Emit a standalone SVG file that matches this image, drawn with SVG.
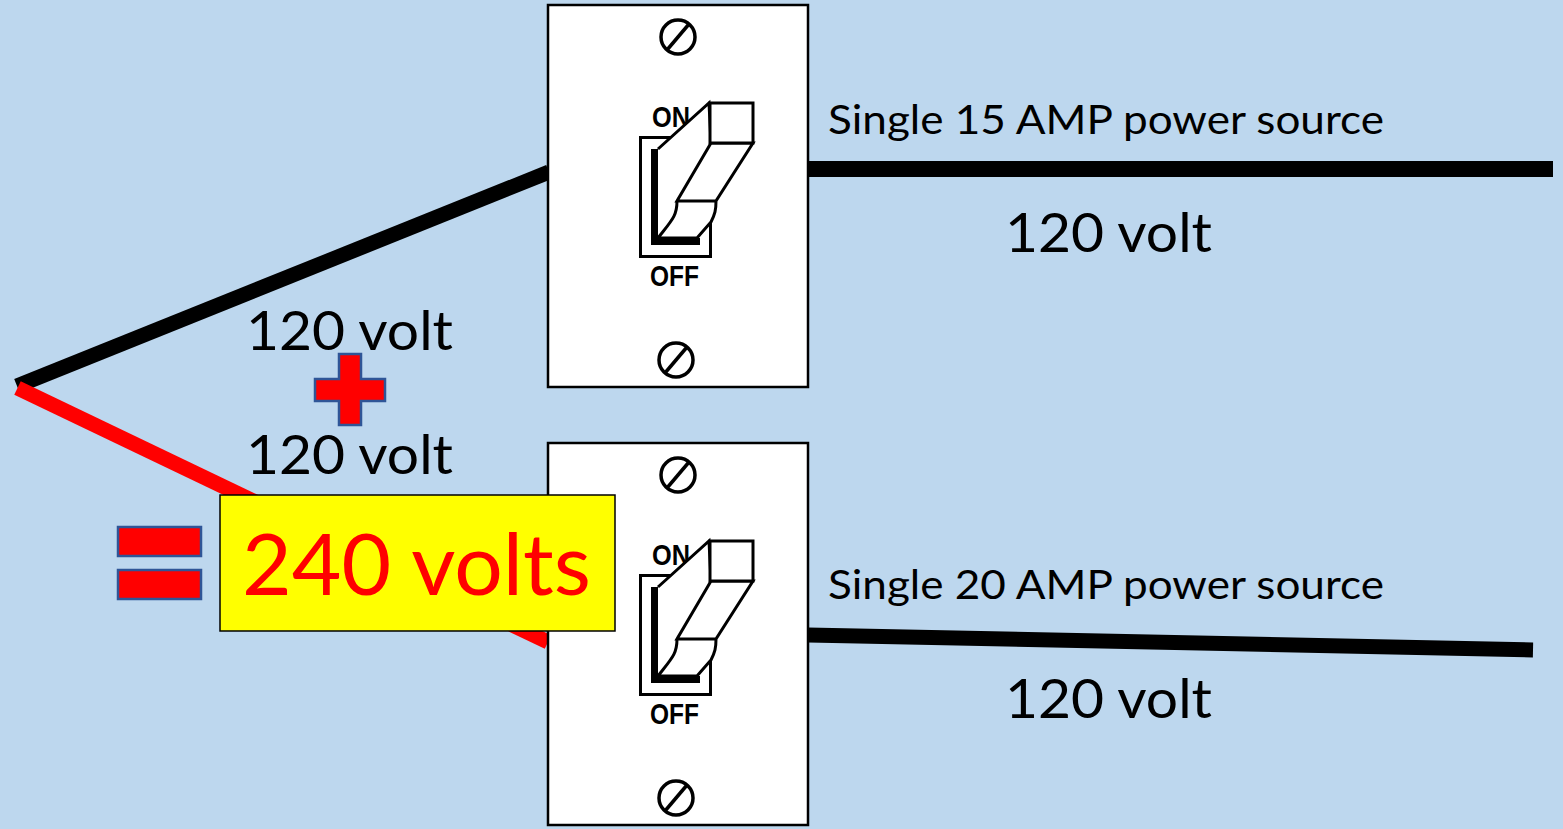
<svg xmlns="http://www.w3.org/2000/svg" width="1563" height="829" viewBox="0 0 1563 829">
<style>
.plate{fill:#fff;stroke:#000;stroke-width:2.5}
.ln{fill:none;stroke:#000;stroke-width:3;stroke-linejoin:miter}
.fillw{fill:#fff;stroke:#000;stroke-width:3;stroke-linejoin:miter}
.screw{fill:none;stroke:#000;stroke-width:3.5}
.sw{font-family:"Liberation Sans",Arial,sans-serif;font-weight:700;font-size:30px;fill:#000}
.lab{font-family:Lato,"Open Sans",sans-serif;fill:#000}
.big{font-size:55px}
.mid{font-size:40px}
.sym{fill:#f00;stroke:#2f5597;stroke-width:2.5}
.wire{fill:none}
</style>
<rect id="background" width="1563" height="829" fill="#bdd7ee"/>
<g id="connectors">
<line class="wire" stroke="#000" stroke-width="15" x1="17" y1="386" x2="549" y2="172"/>
<line class="wire" stroke="#000" stroke-width="16" x1="808" y1="169" x2="1553" y2="169"/>
<line class="wire" stroke="#000" stroke-width="15" x1="808" y1="635" x2="1533" y2="650"/>
<line class="wire" stroke="#f00" stroke-width="15" x1="17.500" y1="388" x2="548" y2="642"/>
</g>
<g id="switch-15a">
<rect class="plate" x="548" y="5" width="260" height="382"/>
<circle class="screw" cx="678" cy="37" r="17"/><line class="screw" x1="667" y1="50" x2="689" y2="24"/>
<circle class="screw" cx="676" cy="360" r="17"/><line class="screw" x1="665" y1="373" x2="687" y2="347"/>
<text class="sw" x="652" y="127" textLength="38" lengthAdjust="spacingAndGlyphs">ON</text>
<text class="sw" x="650" y="286" textLength="49" lengthAdjust="spacingAndGlyphs">OFF</text>
<rect class="ln" x="640.500" y="137.500" width="70" height="119"/>
<path d="M651 149H658V238H700V245H651Z" fill="#000"/>
<path class="fillw" d="M658 149L709 103L711 143L677 201C677 216 672 220 658 238H697L711 222C715 214 716 210 716 201L753 143H711L677 201H716"/>
<rect class="fillw" x="710" y="103" width="43" height="40"/>
</g>
<g id="switch-20a">
<rect class="plate" x="548" y="443" width="260" height="382"/>
<circle class="screw" cx="678" cy="475" r="17"/><line class="screw" x1="667" y1="488" x2="689" y2="462"/>
<circle class="screw" cx="676" cy="798" r="17"/><line class="screw" x1="665" y1="811" x2="687" y2="785"/>
<text class="sw" x="652" y="565" textLength="38" lengthAdjust="spacingAndGlyphs">ON</text>
<text class="sw" x="650" y="724" textLength="49" lengthAdjust="spacingAndGlyphs">OFF</text>
<rect class="ln" x="640.500" y="575.500" width="70" height="119"/>
<path d="M651 587H658V676H700V683H651Z" fill="#000"/>
<path class="fillw" d="M658 587L709 541L711 581L677 639C677 654 672 658 658 676H697L711 660C715 652 716 648 716 639L753 581H711L677 639H716"/>
<rect class="fillw" x="710" y="541" width="43" height="40"/>
</g>
<g id="labels">
<text class="lab mid" x="828" y="134" textLength="556" lengthAdjust="spacingAndGlyphs">Single 15 AMP power source</text>
<text class="lab big" x="1005" y="252" textLength="207" lengthAdjust="spacingAndGlyphs">120 volt</text>
<text class="lab mid" x="828" y="599" textLength="556" lengthAdjust="spacingAndGlyphs">Single 20 AMP power source</text>
<text class="lab big" x="1005" y="718" textLength="207" lengthAdjust="spacingAndGlyphs">120 volt</text>
<text class="lab big" x="246" y="350" textLength="207" lengthAdjust="spacingAndGlyphs">120 volt</text>
<text class="lab big" x="246" y="474" textLength="207" lengthAdjust="spacingAndGlyphs">120 volt</text>
</g>
<g id="plus">
<path class="sym" d="M339 354H361V379H385V401H361V425H339V401H315V379H339Z"/>
</g>
<g id="equals">
<rect class="sym" x="118" y="527" width="83" height="29"/>
<rect class="sym" x="118" y="570" width="83" height="29"/>
</g>
<g id="result">
<rect x="220" y="495" width="395" height="136" fill="#ff0" stroke="#000" stroke-width="1.500"/>
<text x="242" y="595" font-family="Lato,'Open Sans',sans-serif" font-size="86" fill="#f00" textLength="349" lengthAdjust="spacingAndGlyphs">240 volts</text>
</g>
</svg>
